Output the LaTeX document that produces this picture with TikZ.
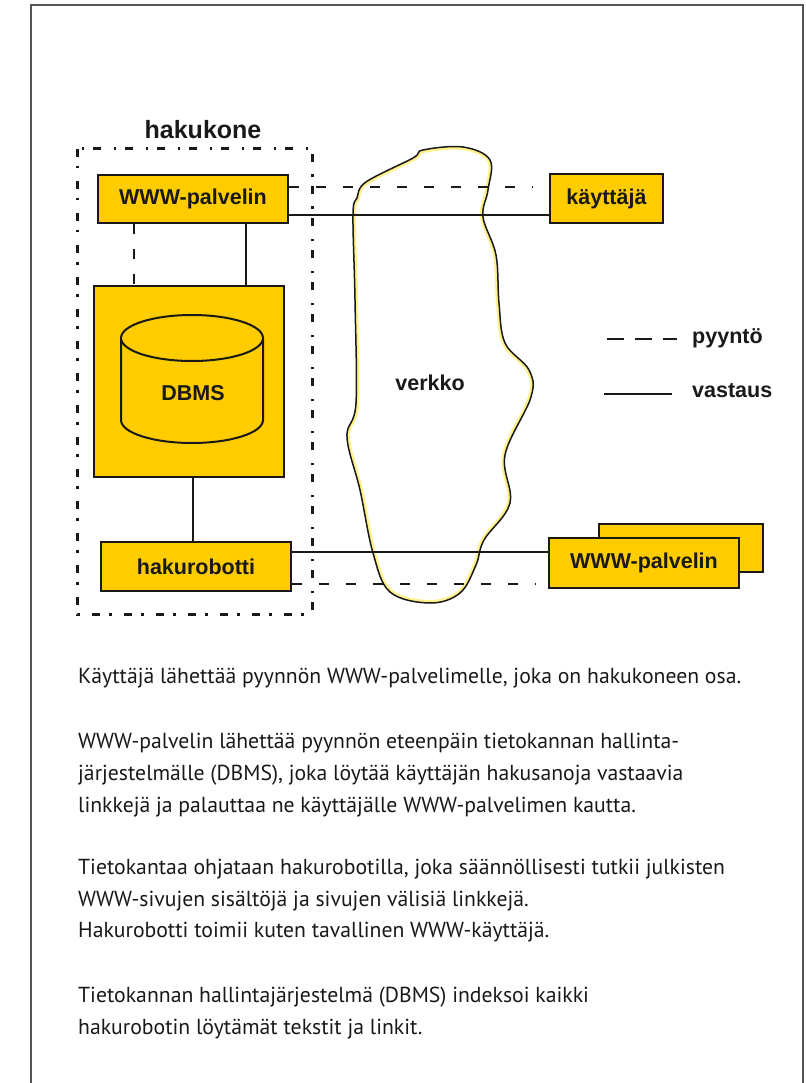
\documentclass[tikz,border=0pt]{standalone}
\usepackage{fontspec}
\setmainfont{Liberation Sans}
\newfontfamily\bodyfont{PT Sans}
\definecolor{gold}{HTML}{FFCC00}
\definecolor{cloudyel}{HTML}{FFF08A}
\definecolor{framegray}{HTML}{555555}
\begin{document}
\begin{tikzpicture}[x=1pt,y=-1pt,
  box/.style={draw=black!90,line width=2.3pt,fill=gold,inner sep=0pt},
  lbl/.style={font=\fontsize{21.5}{24}\selectfont\bfseries,text=black!90},
  conn/.style={line width=2.3pt,draw=black!90},
  req/.style={conn,dash pattern=on 10pt off 17pt},
  body/.style={anchor=base west,inner sep=0pt,font=\bodyfont\fontsize{21.7}{24}\selectfont,text=black!90}]
\useasboundingbox (0,0) rectangle (805,1083);
% frame
\draw[framegray,line width=1.6pt] (31,1083) -- (31,5) -- (803,5) -- (803,1083);

% hakukone group
\node[lbl,font=\fontsize{25}{28}\selectfont\bfseries] (hk) at (203,130) {hakukone};
\draw[line width=3pt,black!90,dash pattern=on 8pt off 9pt on 2.5pt off 12.5pt] (77,149) rectangle (312,614);

% cloud
\def\cloudpath{plot[smooth cycle,tension=0.6] coordinates {(423,150) (463,147) (490,160) (488,190) (483,217) (496,255) (499,303) (505,343) (529,370) (531,397) (505,455) (510,503) (484,540) (476,565) (460,593) (430,603) (390,592) (373,553) (360,490) (347,437) (356,403) (355,300) (353,215) (357,198) (366,182) (413,158)}}
\fill[white] \cloudpath;
\begin{scope}
  \clip \cloudpath;
  \draw[cloudyel,line width=6pt] \cloudpath;
\end{scope}
\draw[black!90,line width=1.5pt] \cloudpath;
\node[lbl] (verkko) at (430,383) {verkko};

% boxes
\node[box,minimum width=190pt,minimum height=48pt] (www) at (193,199) {};
\node[lbl] at (www.center) {WWW-palvelin};
\node[box,minimum width=190pt,minimum height=191pt] (dbbox) at (189,381.5) {};
\node[box,minimum width=190pt,minimum height=49pt] (robot) at (196,566.5) {};
\node[lbl] at (robot.center) {hakurobotti};
\node[box,minimum width=113pt,minimum height=49pt] (user) at (606.5,198.5) {};
\node[lbl] at (user.center) {käyttäjä};
\node[box,minimum width=164pt,minimum height=48pt] (wwwback) at (681,548) {};
\node[box,minimum width=190pt,minimum height=50pt] (www2) at (644,563) {};
\node[lbl] at (www2.center) {WWW-palvelin};

% cylinder
\draw[black!90,line width=2pt,fill=gold] (121,338) -- (121,420) arc[start angle=180,end angle=0,x radius=71,y radius=23] -- (263,338);
\draw[black!90,line width=2pt,fill=gold] (192,338) ellipse[x radius=71,y radius=23];
\node[lbl] (dbms) at (193,393) {DBMS};

% connectors
\draw[conn] (www.south -| 246,0) -- (dbbox.north -| 246,0);
\draw[conn,dash pattern=on 10pt off 15pt] (www.south -| 134,0) -- (dbbox.north -| 134,0);
\draw[conn] (dbbox.south -| 193,0) -- (robot.north -| 193,0);
\draw[conn] (www.east |- 0,215) -- (user.west |- 0,215);
\draw[req] (www.east |- 0,187) -- ([xshift=-16pt]user.west |- 0,187);
\draw[conn] (robot.east |- 0,552) -- (www2.west |- 0,552);
\draw[req] (robot.east |- 0,584) -- ([xshift=-12pt]www2.west |- 0,584);

% legend
\coordinate (l1a) at (607,339); \coordinate (l1b) at (677,339);
\coordinate (l2a) at (604,394); \coordinate (l2b) at (672,394);
\draw[conn,dash pattern=on 17pt off 11pt] (l1a) -- (l1b);
\draw[conn] (l2a) -- (l2b);
\node[lbl,anchor=west,inner sep=0pt] (pyy) at (692,338) {pyyntö};
\node[lbl,anchor=west,inner sep=0pt] (vas) at (692,391) {vastaus};

% body text
\node[body] (t1) at (78,683) {Käyttäjä lähettää pyynnön WWW-palvelimelle, joka on hakukoneen osa.};
\node[body] (t2) at (78,748) {WWW-palvelin lähettää pyynnön eteenpäin tietokannan hallinta-};
\node[body] (t3) at (78,780) {järjestelmälle (DBMS), joka löytää käyttäjän hakusanoja vastaavia};
\node[body] (t4) at (78,812) {linkkejä ja palauttaa ne käyttäjälle WWW-palvelimen kautta.};
\node[body] (t5) at (78,874) {Tietokantaa ohjataan hakurobotilla, joka säännöllisesti tutkii julkisten};
\node[body] (t6) at (78,906) {WWW-sivujen sisältöjä ja sivujen välisiä linkkejä.};
\node[body] (t7) at (78,937) {Hakurobotti toimii kuten tavallinen WWW-käyttäjä.};
\node[body] (t8) at (78,1002) {Tietokannan hallintajärjestelmä (DBMS) indeksoi kaikki};
\node[body] (t9) at (78,1034) {hakurobotin löytämät tekstit ja linkit.};
\end{tikzpicture}
\end{document}
